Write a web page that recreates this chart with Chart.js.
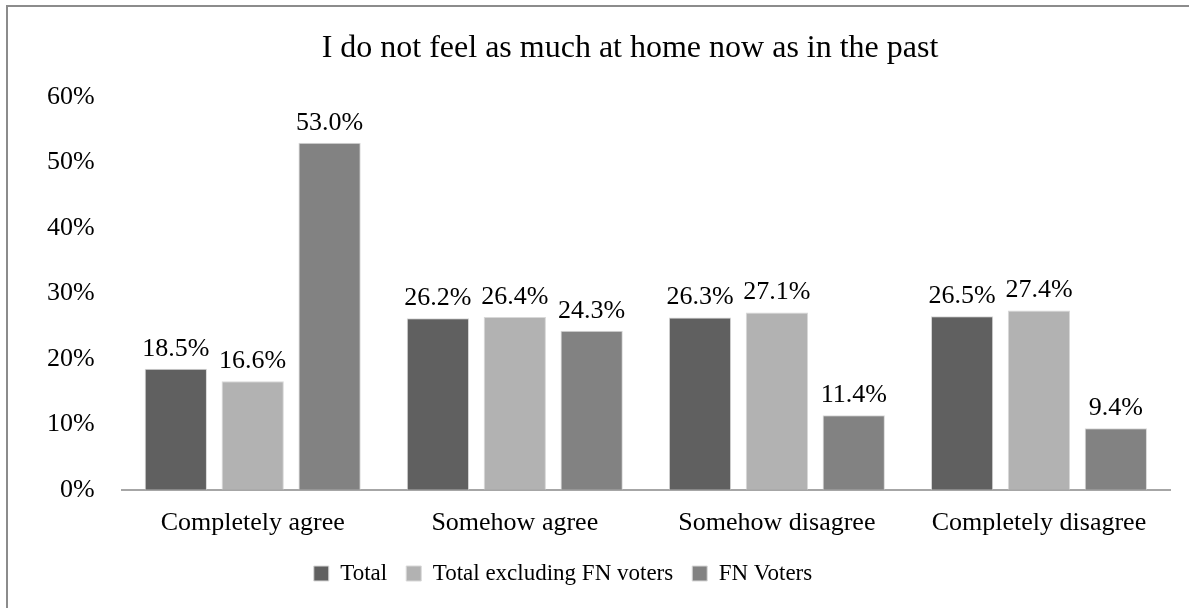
<!DOCTYPE html>
<html><head><meta charset="utf-8">
<script src="https://cdn.jsdelivr.net/npm/chart.js@4/dist/chart.umd.min.js"></script>
<style>
html,body{margin:0;padding:0;background:#fff;overflow:hidden;}
#wrap{position:absolute;left:0;top:0;width:1189px;height:608px;}
#frame{position:absolute;left:6px;top:5px;width:1200px;height:700px;border:2px solid #8c8c8c;box-sizing:border-box;pointer-events:none;}
</style></head>
<body>
<div id="wrap"><canvas id="c" width="1189" height="608"></canvas></div>
<div id="frame"></div>
<script>
const title = "I do not feel as much at home now as in the past";
const categories = ["Completely agree", "Somehow agree", "Somehow disagree", "Completely disagree"];
const seriesNames = ["Total", "Total excluding FN voters", "FN Voters"];
const totalValues = [18.5, 26.2, 26.3, 26.5];
const exclFNValues = [16.6, 26.4, 27.1, 27.4];
const fnValues = [53.0, 24.3, 11.4, 9.4];
const yTicks = [0, 10, 20, 30, 40, 50, 60];
const colors = ["#606060", "#b2b2b2", "#828282"];

const FONT = "'Liberation Serif', 'Times New Roman', serif";

const labelPlugin = {
  id: 'vals',
  beforeDraw(chart) {
    // shift legend block left, as in the original layout
    const lg = chart.legend;
    if (lg && !lg._shifted) { lg.left -= 32; lg.right -= 32; lg._shifted = true; }
  },
  afterDatasetsDraw(chart) {
    const ctx = chart.ctx;
    ctx.save();
    ctx.font = "26px " + FONT;
    ctx.fillStyle = "#000";
    ctx.textAlign = "center";
    ctx.textBaseline = "bottom";
    chart.data.datasets.forEach((ds, i) => {
      const meta = chart.getDatasetMeta(i);
      meta.data.forEach((bar, j) => {
        ctx.fillText(ds.data[j].toFixed(1) + "%", bar.x, bar.y - 7);
      });
    });
    // chart title
    ctx.font = "32px " + FONT;
    ctx.textBaseline = "alphabetic";
    ctx.fillText(title, 630, 57);
    ctx.restore();
  }
};

new Chart(document.getElementById('c'), {
  type: 'bar',
  data: {
    labels: categories,
    datasets: [
      {label: seriesNames[0], data: totalValues, backgroundColor: colors[0]},
      {label: seriesNames[1], data: exclFNValues, backgroundColor: colors[1]},
      {label: seriesNames[2], data: fnValues, backgroundColor: colors[2]}
    ].map(d => Object.assign(d, {borderColor: '#d8d8d8', borderWidth: 1, categoryPercentage: 0.88, barPercentage: 0.81}))
  },
  options: {
    responsive: false,
    animation: false,
    devicePixelRatio: 1,
    layout: {padding: {left: 20, right: 19, top: 97, bottom: 13}},
    plugins: {
      title: {display: false},
      legend: {position: 'bottom', labels: {color: '#000', font: {family: FONT, size: 23}, boxWidth: 15, boxHeight: 15, padding: 19}},
      tooltip: {enabled: false}
    },
    scales: {
      x: {
        grid: {display: false, drawTicks: false},
        border: {display: true, color: '#a6a6a6', width: 2},
        ticks: {color: '#000', font: {family: FONT, size: 26}, padding: 18},
        afterFit: s => { s.height -= 14; }
      },
      y: {
        min: 0, max: 60,
        afterBuildTicks: (ax) => { ax.ticks = yTicks.map(v => ({value: v})); },
        grid: {display: false, drawTicks: false},
        border: {display: false},
        ticks: {color: '#000', font: {family: FONT, size: 26}, padding: 27, callback: v => v + '%'}
      }
    }
  },
  plugins: [labelPlugin]
});
</script>
</body></html>
